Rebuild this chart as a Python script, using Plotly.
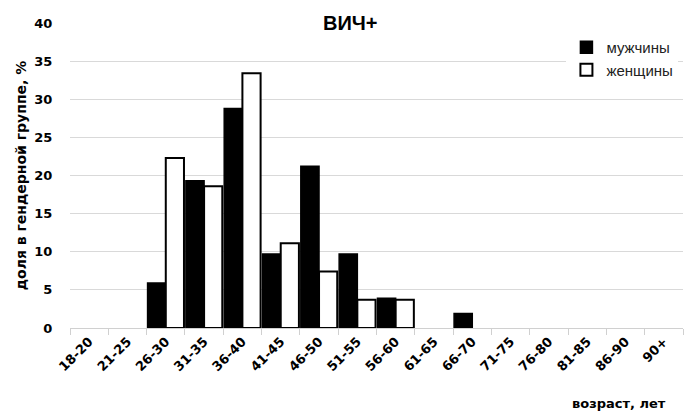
import plotly.graph_objects as go

categories = ["18-20", "21-25", "26-30", "31-35", "36-40", "41-45", "46-50", "51-55",
              "56-60", "61-65", "66-70", "71-75", "76-80", "81-85", "86-90", "90+"]
men = [0, 0, 5.9, 19.3, 28.8, 9.7, 21.2, 9.7, 3.9, 0, 1.9, 0, 0, 0, 0, 0]
women = [0, 0, 22.3, 18.6, 33.4, 11.1, 7.4, 3.7, 3.7, 0, 0, 0, 0, 0, 0, 0]

FONT = "Liberation Sans"
TICKFONT = "DejaVu Sans"


def nz(vals):
    # zero-height bars are not drawn (avoid outline slivers on the axis)
    return [v if v else None for v in vals]


fig = go.Figure()
fig.add_trace(go.Bar(x=categories, y=nz(men), name="мужчины",
                     marker=dict(color="black", line=dict(color="black", width=1.5))))
fig.add_trace(go.Bar(x=categories, y=nz(women), name="женщины",
                     marker=dict(color="white", line=dict(color="black", width=2))))

fig.update_layout(
    width=695, height=414,
    margin=dict(l=70, r=12, t=23, b=86, autoexpand=False),
    paper_bgcolor="white", plot_bgcolor="white",
    barmode="group", bargap=0.05, bargroupgap=0.0,
    font=dict(family=FONT, color="black"),
    showlegend=True,
    legend=dict(xref="container", yref="container", x=0.815, y=0.925,
                xanchor="left", yanchor="top",
                bgcolor="white", font=dict(size=15, family=FONT, color="#222"),
                itemwidth=30, tracegroupgap=8),
    annotations=[
        dict(text="<b>ВИЧ+</b>", x=0.458, y=1.0, xref="paper", yref="paper",
             xanchor="center", yanchor="middle", showarrow=False,
             font=dict(size=20, family=FONT), bgcolor="white", borderpad=4),
        dict(text="<b>возраст, лет</b>", x=0.896, y=-0.249, xref="paper", yref="paper",
             xanchor="center", yanchor="middle", showarrow=False,
             font=dict(size=13, family=TICKFONT)),
    ],
)
fig.update_xaxes(type="category", tickangle=-45, ticks="outside", tickson="boundaries",
                 ticklen=6, tickcolor="#d0d0d0", showline=True, linecolor="#d0d0d0",
                 linewidth=1, showgrid=False, automargin=False,
                 tickfont=dict(size=13, family=TICKFONT, color="black", weight="bold"))
fig.update_yaxes(range=[0, 40], dtick=5, showgrid=True, gridcolor="#d9d9d9", gridwidth=1,
                 zeroline=False, showline=False, ticks="outside", ticklen=14,
                 tickcolor="rgba(0,0,0,0)", automargin=False,
                 tickfont=dict(size=13, family=TICKFONT, color="black", weight="bold"),
                 title=dict(text="доля в гендерной группе, %", standoff=4,
                            font=dict(size=14, family=TICKFONT, weight="bold")))

fig.write_html("out.html")
